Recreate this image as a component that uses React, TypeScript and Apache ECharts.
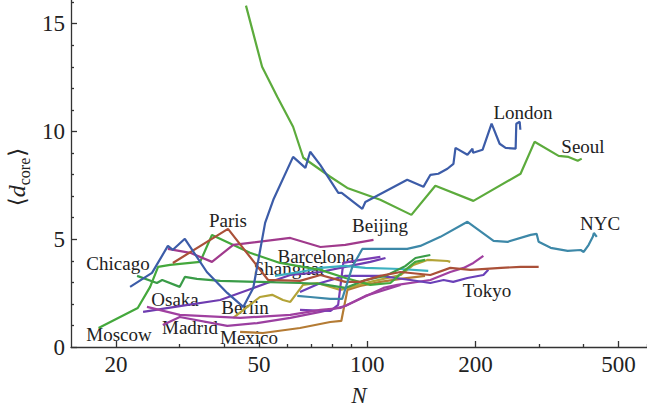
import React, { useEffect, useRef } from 'react';
import * as echarts from 'echarts';

// ---- axis ticks ----
const xTickLabels = [20, 50, 100, 200, 500];
const xMinorTicks = [30, 40, 60, 70, 80, 90, 300, 400, 600];
const yTickLabels = [0, 5, 10, 15];
const yMinorTicks = [1, 2, 3, 4, 6, 7, 8, 9, 11, 12, 13, 14, 16];

// ---- series data: [N, <d_core>] ----
const london = [[21.9, 2.79], [25.2, 3.44], [27.9, 4.69], [28.8, 4.51], [31.1, 5.02], [35.8, 3.48], [40.8, 2.51], [45.2, 1.86], [48.2, 2.74], [52.0, 5.76], [54.8, 6.83], [62.2, 8.82], [67.3, 8.31], [69.4, 9.06], [74.0, 8.45], [83.1, 7.15], [84.9, 7.15], [96.9, 6.41], [98.8, 6.73], [129.2, 7.76], [143.3, 7.43], [149.9, 7.99], [157.7, 8.04], [167.1, 8.27], [173.7, 8.5], [176, 9.24], [190, 8.92], [196.2, 9.2], [197, 9.01], [209.3, 9.15], [221.8, 10.36], [233.5, 9.43], [242.6, 9.24], [258.7, 9.2], [259.8, 10.36], [265.5, 10.45], [266.6, 10.08]];
const seoul = [[46.0, 15.84], [51.0, 13.0], [56.2, 11.61], [62.2, 10.22], [66.4, 8.78], [78.9, 7.9], [88.0, 7.38], [108.7, 6.83], [132.7, 6.13], [154.7, 7.48], [197.4, 6.78], [267, 8.04], [292, 9.52], [340.6, 8.87], [363, 8.82], [385, 8.64], [395, 8.74]];
const nyc = [[63.9, 2.37], [69.4, 2.32], [78.9, 2.23], [85.2, 2.23], [90.9, 3.72], [96.9, 4.55], [98.8, 4.55], [129.2, 4.55], [140.5, 4.69], [159.8, 5.11], [190, 5.81], [224.6, 4.92], [245.8, 4.88], [284.8, 5.2], [295.9, 5.25], [299.7, 4.88], [323.7, 4.6], [361, 4.46], [392.4, 4.5], [400, 4.41], [413, 4.74], [424, 5.11], [427, 5.29], [435, 5.11]];
const paris = [[28.8, 3.9], [41.0, 5.48], [53.0, 3.11], [65.0, 3.07], [74.1, 3.34], [86.9, 3.02], [95.6, 3.02], [108.8, 3.3], [123.8, 3.48], [149.8, 3.34], [170.2, 3.67], [193.8, 3.58], [235.6, 3.67], [267, 3.72], [299.8, 3.72]];
const chicago = [[22.9, 3.3], [26.0, 2.97], [26.9, 3.11], [30.1, 2.79], [31.1, 3.25], [33.6, 3.16], [39.0, 3.07], [50.3, 3.02], [65.0, 2.97], [74.1, 2.93], [86.9, 2.74], [98.8, 3.11], [112.4, 3.3], [127.8, 3.76], [136.2, 4.13], [149.8, 4.27]];
const moscow = [[17.9, 0.88], [23.0, 1.81], [24.9, 2.79], [26.2, 3.72], [28.3, 3.81], [34.3, 3.95], [37.0, 5.2], [47.2, 4.37], [57.2, 3.9], [74.1, 3.58], [87, 3.2], [102, 2.88], [116, 2.97], [123.8, 3.39], [136, 3.95], [144.8, 4.04]];
const osaka = [[23.8, 1.63], [30.1, 1.9], [39.0, 2.18], [52.7, 2.97], [61.1, 3.34], [74.1, 3.48], [86.9, 3.72], [102, 3.95], [112.4, 4.13]];
const madrid = [[27.0, 1.02], [30.1, 1.39], [40.8, 0.98], [49.4, 1.11], [61.1, 1.35], [74.1, 1.63], [86.9, 1.9], [98.8, 2.37], [123.8, 2.88]];
const beijing = [[24.4, 1.86], [30.1, 1.49], [44.3, 1.35], [61.1, 1.49], [74.1, 1.72], [84.2, 1.81], [91.6, 2.09], [110.9, 2.74], [121.3, 2.88], [149.8, 3.11], [170.2, 3.48], [185.4, 3.67], [197.4, 3.9], [210.4, 4.23]];
const barcelona = [[27.9, 4.55], [32.2, 4.37], [37.0, 3.95], [42.4, 4.74], [61.1, 5.06], [74.1, 4.64], [86.9, 4.74], [104.1, 4.97]];
const berlin = [[42.4, 1.35], [50.3, 2.32], [54.4, 2.42], [58.3, 2.18], [61.1, 2.09], [66.3, 2.88], [72.6, 2.97], [84.2, 2.65], [102, 3.02], [123.8, 3.34], [134.4, 3.81], [147, 4.04], [167.2, 3.99], [170.2, 3.95]];
const mexico = [[44.3, 0.7], [51.3, 0.65], [65.0, 0.88], [78.9, 1.16], [84.7, 1.21], [88.1, 2.65], [95.6, 2.83], [108.8, 3.02], [123.8, 3.16], [144.8, 3.3]];
const shanghai = [[55.4, 3.3], [65.0, 3.48], [74.1, 3.67], [86.9, 3.76], [98.8, 3.67], [123.8, 3.62], [147.8, 3.53]];
const valencia = [[65.0, 1.72], [78.9, 1.67], [83.0, 1.95], [85.8, 3.9], [95.6, 4.04], [108.8, 4.18]];
const tokyo = [[65.0, 2.55], [74.1, 2.97], [86.9, 3.3], [108.8, 3.3], [131.9, 3.11], [149.8, 2.97], [163.1, 3.11], [173.4, 3.02], [189.9, 3.2], [210.4, 3.34], [217.2, 3.58]];

const seriesNames = ['Madrid', 'Mexico', 'Berlin', 'Osaka', 'Valencia', 'Beijing', 'Shanghai', 'Tokyo', 'Chicago', 'Moscow', 'Barcelona', 'Paris', 'NYC', 'Seoul', 'London'];
const seriesData = [madrid, mexico, berlin, osaka, valencia, beijing, shanghai, tokyo, chicago, moscow, barcelona, paris, nyc, seoul, london];
const seriesColors = ['#9b3fa0', '#b47b34', '#b3a337', '#6e3cb0', '#7a3cb4', '#a040a0', '#3cb0c0', '#6a40b8', '#3a9c48', '#44a83c', '#a03a8c', '#aa5038', '#3d88a8', '#5cab3c', '#3c5ca8'];

// ---- city labels ----
const labelTexts = ['London', 'Seoul', 'NYC', 'Beijing', 'Tokyo', 'Paris', 'Chicago', 'Barcelona', 'Shanghai', 'Osaka', 'Berlin', 'Madrid', 'Moscow', 'Mexico'];
const labelPos = [[523, 112], [583, 146], [600, 223], [380, 225], [487, 290], [228, 220], [118, 263], [316, 256], [289, 268], [175, 299], [245, 307], [190, 327], [119, 334], [249, 337]];

const SERIF = '"Liberation Serif", "Times New Roman", serif';
const AX = '#333';

export default function App() {
  const ref = useRef<HTMLDivElement>(null);
  useEffect(() => {
    if (!ref.current) return;
    const chart = echarts.init(ref.current, undefined, { renderer: 'svg' });
    const graphic: any[] = labelTexts.map((t, i) => ({
      type: 'text',
      x: labelPos[i][0],
      y: labelPos[i][1],
      silent: true,
      style: { text: t, fill: '#222', font: `19px ${SERIF}`, align: 'center', verticalAlign: 'middle' },
    }));
    graphic.push({
      type: 'text',
      x: 17,
      y: 177,
      rotation: Math.PI / 2,
      silent: true,
      style: {
        text: '{b|⟨}{d|d}{s|core}{b|⟩}',
        align: 'center',
        verticalAlign: 'middle',
        fill: '#222',
        rich: {
          b: { fontSize: 23, fontFamily: '"DejaVu Serif", serif', lineHeight: 30, fill: '#222' },
          d: { fontSize: 24, fontFamily: SERIF, fontStyle: 'italic', lineHeight: 30, fill: '#222' },
          s: { fontSize: 16, fontFamily: SERIF, lineHeight: 16, verticalAlign: 'bottom', padding: [10, 1, 0, 0], fill: '#222' },
        },
      },
    });
    const tickStyle = { color: AX, width: 1.3 };
    chart.setOption({
      animation: false,
      grid: { left: 71, right: 0, top: 0, bottom: 66, outerBoundsMode: 'none', containLabel: false },
      xAxis: [
        {
          type: 'log', logBase: 10, min: 15, max: 600, position: 'bottom',
          axisLine: { show: true, lineStyle: { color: AX, width: 1.3 } },
          axisTick: { show: true, inside: true, length: 6, customValues: xTickLabels, lineStyle: tickStyle },
          axisLabel: { show: true, customValues: xTickLabels, margin: 6, fontSize: 23, fontFamily: SERIF, color: '#222' },
          splitLine: { show: false },
          minorTick: { show: false },
          name: 'N', nameLocation: 'middle', nameGap: 37,
          nameTextStyle: { fontSize: 23, fontStyle: 'italic', fontFamily: SERIF, color: '#222' },
        },
        {
          type: 'log', logBase: 10, min: 15, max: 600, position: 'bottom',
          axisLine: { show: false },
          axisTick: { show: true, inside: true, length: 3, customValues: xMinorTicks, lineStyle: tickStyle },
          axisLabel: { show: false },
          splitLine: { show: false },
        },
      ],
      yAxis: [
        {
          type: 'value', min: 0, max: 16.1, position: 'left',
          axisLine: { show: true, lineStyle: { color: AX, width: 1.3 } },
          axisTick: { show: true, inside: true, length: 6, customValues: yTickLabels, lineStyle: tickStyle },
          axisLabel: { show: true, customValues: yTickLabels, margin: 6, fontSize: 23, fontFamily: SERIF, color: '#222' },
          splitLine: { show: false },
        },
        {
          type: 'value', min: 0, max: 16.1, position: 'left',
          axisLine: { show: false },
          axisTick: { show: true, inside: true, length: 3, customValues: yMinorTicks, lineStyle: tickStyle },
          axisLabel: { show: false },
          splitLine: { show: false },
        },
      ],
      series: seriesNames.map((name, i) => ({
        name,
        type: 'line',
        xAxisIndex: 0,
        yAxisIndex: 0,
        data: seriesData[i],
        showSymbol: false,
        symbol: 'none',
        lineStyle: { color: seriesColors[i], width: 2.2 },
        itemStyle: { color: seriesColors[i] },
      })),
      graphic,
    });
    return () => chart.dispose();
  }, []);
  return <div ref={ref} style={{ width: 647, height: 413, position: 'absolute', left: 0, top: 0 }} />;
}
